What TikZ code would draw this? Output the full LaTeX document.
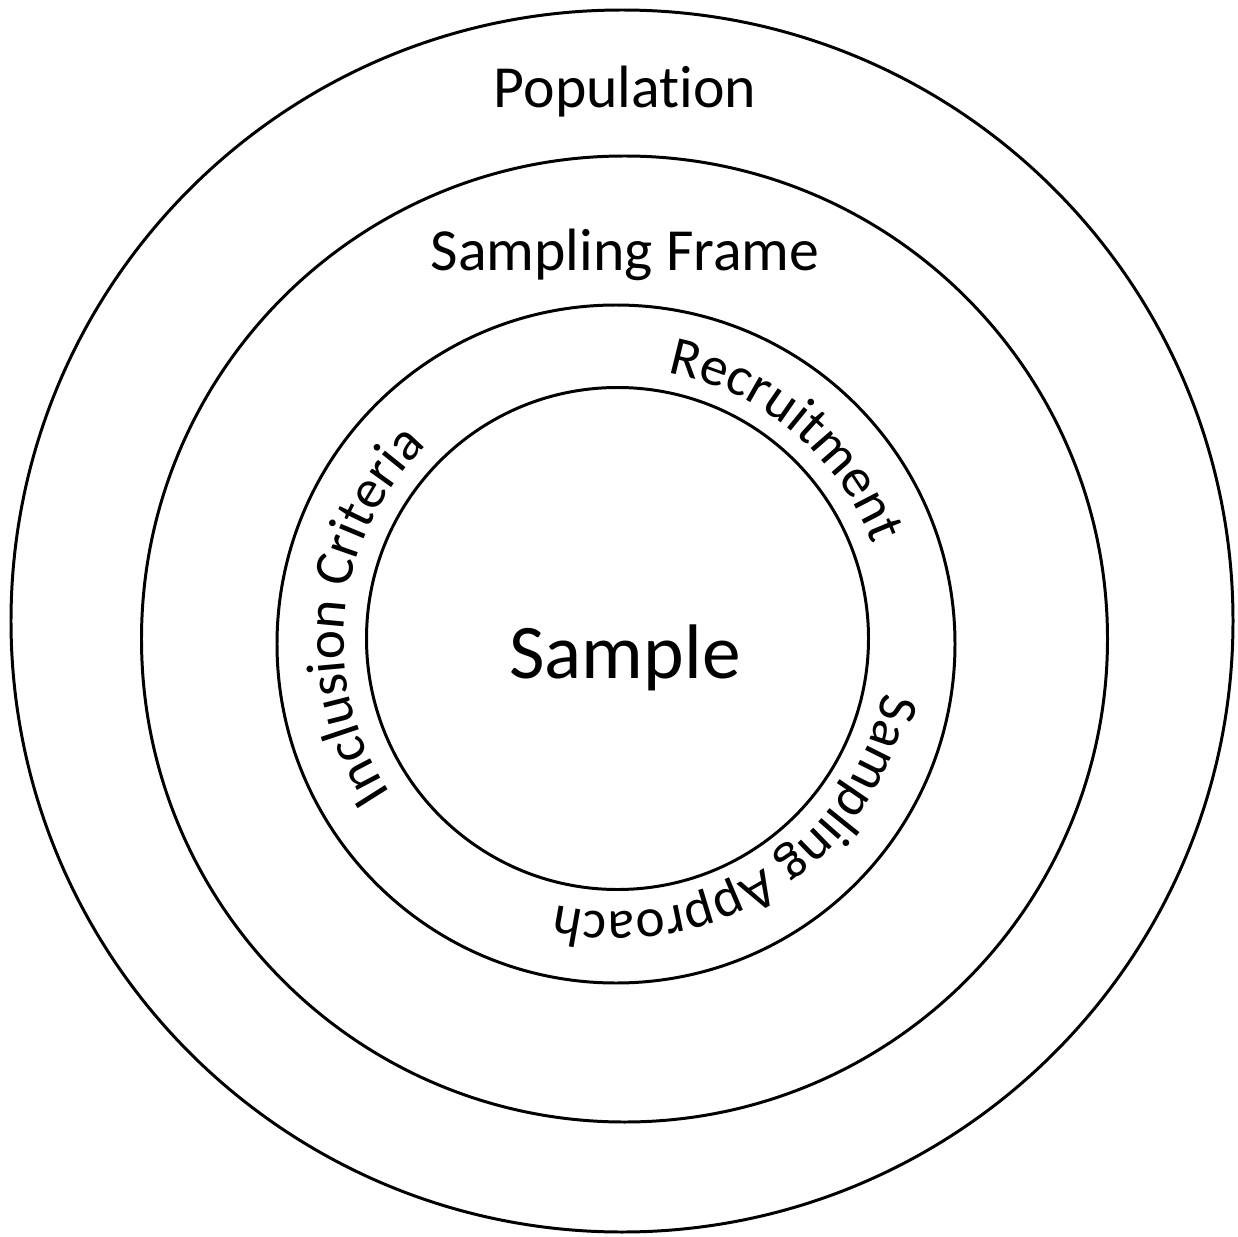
\documentclass[tikz,border=0pt]{standalone}
\usepackage{fontspec}
\setmainfont{Carlito}[Ligatures=NoCommon]
\usetikzlibrary{decorations.text}

\newcommand\ringfont{\fontsize{31.5}{37}\selectfont}
\newcommand\titlefont{\fontsize{34}{40}\selectfont}
\newcommand\corefont{\fontsize{44}{52}\selectfont}

\tikzset{
  ring/.style={draw, line width=1.7pt},
  ringtext/.style={decorate, decoration={text along path, text={|\ringfont|#1}, text align=center}}
}

\begin{document}
\begin{tikzpicture}[x=0.02cm, y=0.02cm]
  \useasboundingbox (0,0) rectangle (1238,-1237);

  % circle centres
  \coordinate (cpop) at (622,-621);
  \coordinate (cframe) at (624.5,-639);
  \coordinate (cband) at (616,-644);
  \coordinate (csample) at (617.5,-638.5);
  \coordinate (ctext) at (617,-641);

  \draw[ring] (cpop) circle[radius=611];
  \draw[ring] (cframe) circle[radius=483];
  \draw[ring] (cband) circle[radius=339];
  \draw[ring] (csample) circle[radius=251];

  \node[anchor=base] (pop) at (625,-108) {\titlefont Population};
  \node[anchor=base] (frame) at (625,-270) {\titlefont Sampling Frame};
  \node[anchor=base] (sample) at (625,-678) {\corefont Sample};

  % texts round the band
  \path[ringtext=Recruitment] (ctext) ++(110:273) arc[start angle=110, end angle=-10, radius=273];
  \path[ringtext=Inclusion Criteria] (ctext) ++(234:273) arc[start angle=234, end angle=114, radius=273];
  \path[ringtext=Sampling Approach] (ctext) ++(3:271) arc[start angle=3, end angle=-117, radius=271];
\end{tikzpicture}
\end{document}
